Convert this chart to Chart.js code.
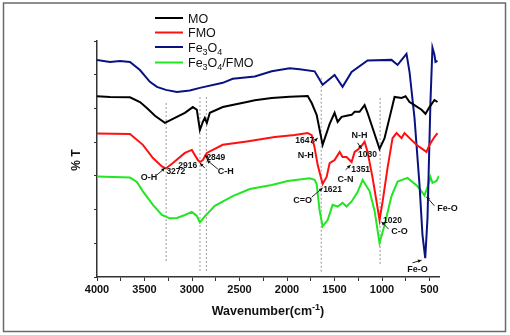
<!DOCTYPE html>
<html>
<head>
<meta charset="utf-8">
<script src="https://cdn.jsdelivr.net/npm/chart.js@4.4.1/dist/chart.umd.min.js"></script>
<style>
  html, body { margin: 0; padding: 0; background: #fff; }
  canvas { display: block; }
</style>
</head>
<body>
<canvas id="ftirChart" width="510" height="335"></canvas>
<script>
// FT-IR spectra: wavenumber (cm-1) vs %T (stacked, arbitrary offset units)
const seriesNames = ["MO", "FMO", "Fe_3O_4", "Fe_3O_4/FMO"];
const seriesColors = ["#000000", "#ff1010", "#0a1282", "#22e622"];
const xTicks = [4000, 3500, 3000, 2500, 2000, 1500, 1000, 500];
const xTickMarks = [4000, 3750, 3500, 3250, 3000, 2750, 2500, 2250, 2000, 1750, 1500, 1250, 1000, 750, 500];

const moWave = [4000, 3863, 3653, 3548, 3475, 3390, 3285, 3180, 3075, 2991, 2949, 2917, 2886, 2865, 2844, 2812, 2676, 2423, 2339, 2161, 1972, 1782, 1740, 1688, 1625, 1551, 1499, 1467, 1425, 1373, 1320, 1288, 1236, 1183, 1152, 1099, 1026, 973, 921, 868, 794, 752, 710, 658, 584, 542, 500, 448, 416];
const moT = [5.36, 5.34, 5.33, 5.19, 5.01, 4.78, 4.57, 4.72, 4.87, 5.04, 4.96, 4.36, 4.60, 4.72, 4.57, 4.87, 5.04, 5.19, 5.24, 5.31, 5.35, 5.37, 5.16, 4.81, 3.92, 4.54, 4.87, 4.60, 4.75, 4.78, 4.81, 4.90, 4.90, 5.10, 4.87, 4.42, 3.80, 4.12, 4.72, 5.34, 5.31, 5.36, 5.19, 5.10, 4.96, 4.84, 5.04, 5.25, 5.19];

const fmoWave = [4000, 3653, 3517, 3411, 3317, 3275, 3201, 3075, 3002, 2938, 2917, 2886, 2844, 2676, 2423, 2129, 1919, 1782, 1740, 1709, 1677, 1625, 1583, 1551, 1499, 1446, 1415, 1373, 1320, 1288, 1257, 1215, 1183, 1152, 1099, 1057, 1026, 994, 942, 889, 847, 794, 763, 710, 637, 532, 500, 448, 416];
const fmoT = [4.26, 4.24, 3.92, 3.53, 3.28, 3.22, 3.38, 3.68, 3.77, 3.47, 3.41, 3.47, 3.68, 3.92, 4.02, 4.15, 4.21, 4.27, 4.21, 3.83, 3.32, 2.76, 2.97, 3.38, 3.47, 3.71, 3.56, 3.56, 3.41, 3.71, 3.77, 3.89, 4.01, 3.71, 2.94, 2.23, 1.69, 2.23, 3.23, 4.12, 4.27, 4.12, 4.27, 4.12, 3.92, 3.71, 3.92, 4.15, 4.27];

const feWave = [4000, 3863, 3758, 3653, 3548, 3443, 3369, 3275, 3159, 3023, 2917, 2676, 2571, 2339, 2161, 1972, 1867, 1709, 1625, 1499, 1415, 1320, 1152, 900, 836, 742, 710, 658, 605, 574, 545, 521, 490, 469, 448, 437, 416];
const feT = [6.44, 6.38, 6.41, 6.38, 6.14, 5.79, 5.64, 5.55, 5.49, 5.53, 5.61, 5.76, 5.88, 5.95, 6.10, 6.19, 6.16, 6.10, 5.70, 5.99, 5.64, 6.08, 6.42, 6.44, 6.29, 6.62, 6.08, 4.72, 2.73, 1.25, 0.56, 1.75, 5.19, 6.80, 6.59, 6.38, 6.41];

const feFmoWave = [4000, 3653, 3580, 3517, 3411, 3317, 3233, 3159, 3075, 3002, 2949, 2917, 2865, 2760, 2571, 2392, 2161, 1993, 1761, 1709, 1688, 1656, 1625, 1572, 1520, 1467, 1415, 1373, 1320, 1257, 1204, 1131, 1078, 1026, 973, 900, 836, 731, 626, 553, 521, 490, 469, 427, 400];
const feFmoT = [2.98, 2.95, 2.82, 2.54, 2.14, 1.84, 1.74, 1.75, 1.84, 1.93, 1.81, 1.62, 1.80, 2.11, 2.40, 2.61, 2.73, 2.85, 2.93, 2.88, 2.76, 1.96, 1.50, 1.69, 2.14, 2.09, 2.20, 2.09, 2.24, 2.52, 2.88, 2.55, 1.96, 1.01, 1.54, 2.40, 2.83, 2.94, 2.69, 2.42, 2.67, 2.97, 2.79, 2.85, 3.00];

// dotted guide lines at the assigned bands
const peakWave = [3272, 2916, 2849, 1640, 1020];
const peakTop = [5.16, 5.34, 5.34, 5.91, 5.31];
const peakBottom = [0.45, 0.12, 0.12, 0.12, 0.36];

// band labels: text, wavenumber, %T
const noteText = ["O-H", "3272", "2916", "2849", "C-H", "1647", "N-H", "1621", "C=O", "N-H", "1030", "1351", "C-N", "1020", "C-O", "Fe-O", "Fe-O"];
const noteWave = [3453, 3170, 3044, 2749, 2644, 1814, 1803, 1520, 1835, 1236, 1152, 1225, 1383, 889, 815, 311, 626];
const noteT = [2.94, 3.12, 3.29, 3.53, 3.12, 4.04, 3.59, 2.58, 2.28, 4.21, 3.62, 3.18, 2.88, 1.66, 1.34, 2.02, 0.21];

// pointer arrows: from (wave, T) to (wave, T)
const arrowFrom = [[3369, 3.03], [2865, 3.23], [2823, 3.50], [2728, 3.20], [1740, 3.95], [1740, 2.37], [1257, 3.98], [1383, 3.18], [931, 1.42], [448, 2.11], [679, 0.42]];
const arrowTo = [[3285, 3.23], [2917, 3.38], [2865, 3.62], [2844, 3.47], [1677, 4.12], [1625, 2.64], [1215, 3.80], [1330, 3.32], [1005, 1.64], [532, 2.38], [584, 0.50]];

const FONT = "'Liberation Sans', Arial, sans-serif";

function pairUp(xs, ys) {
    return xs.map((x, i) => ({ x: x, y: ys[i] }));
}

// draws text with _x subscripts and ^{..} superscripts
function drawRich(ctx, text, x, y, size, weight, align) {
    const parts = [];
    const re = /([_^])(\{[^}]*\}|.)/g;
    let last = 0, m;
    while ((m = re.exec(text)) !== null) {
        if (m.index > last) parts.push([text.slice(last, m.index), 0]);
        parts.push([m[2].replace(/[{}]/g, ""), m[1] === "_" ? 1 : -1]);
        last = re.lastIndex;
    }
    if (last < text.length) parts.push([text.slice(last), 0]);
    const small = Math.round(size * 0.68);
    let total = 0;
    parts.forEach(p => {
        ctx.font = weight + " " + (p[1] ? small : size) + "px " + FONT;
        total += ctx.measureText(p[0]).width;
    });
    let cx = align === "center" ? x - total / 2 : x;
    ctx.textAlign = "left";
    ctx.textBaseline = "alphabetic";
    parts.forEach(p => {
        ctx.font = weight + " " + (p[1] ? small : size) + "px " + FONT;
        const dy = p[1] === 1 ? size * 0.25 : (p[1] === -1 ? -size * 0.4 : 0);
        ctx.fillText(p[0], cx, y + dy);
        cx += ctx.measureText(p[0]).width;
    });
}

const decorPlugin = {
    id: "decor",
    beforeDraw(chart) {
        const ctx = chart.ctx;
        ctx.save();
        ctx.fillStyle = "#fff";
        ctx.fillRect(0, 0, chart.width, chart.height);
        ctx.restore();
    },
    afterDraw(chart) {
        const ctx = chart.ctx;
        const xs = chart.scales.x, ys = chart.scales.y;
        ctx.save();

        // band labels
        ctx.fillStyle = "#111";
        noteText.forEach((t, i) => {
            const isNum = /^\d+$/.test(t);
            ctx.font = "bold " + (isNum ? 8.5 : 9) + "px " + FONT;
            ctx.textAlign = "center";
            ctx.textBaseline = "middle";
            ctx.fillText(t, xs.getPixelForValue(noteWave[i]), ys.getPixelForValue(noteT[i]));
        });

        // arrows
        ctx.strokeStyle = "#222";
        ctx.fillStyle = "#111";
        ctx.lineWidth = 1;
        arrowFrom.forEach((a, i) => {
            const x1 = xs.getPixelForValue(a[0]), y1 = ys.getPixelForValue(a[1]);
            const x2 = xs.getPixelForValue(arrowTo[i][0]), y2 = ys.getPixelForValue(arrowTo[i][1]);
            ctx.beginPath();
            ctx.moveTo(x1, y1);
            ctx.lineTo(x2, y2);
            ctx.stroke();
            const ang = Math.atan2(y2 - y1, x2 - x1);
            ctx.beginPath();
            ctx.moveTo(x2, y2);
            ctx.lineTo(x2 - 4 * Math.cos(ang - 0.45), y2 - 4 * Math.sin(ang - 0.45));
            ctx.lineTo(x2 - 4 * Math.cos(ang + 0.45), y2 - 4 * Math.sin(ang + 0.45));
            ctx.closePath();
            ctx.fill();
        });

        // legend
        const legendY = [18, 32.5, 47, 62.5];
        seriesNames.forEach((name, i) => {
            ctx.strokeStyle = seriesColors[i];
            ctx.lineWidth = 2;
            ctx.beginPath();
            ctx.moveTo(155, legendY[i]);
            ctx.lineTo(183, legendY[i]);
            ctx.stroke();
            ctx.fillStyle = "#111";
            drawRich(ctx, name, 188, legendY[i] + 4.5, 12.5, "normal", "left");
        });

        // axis titles
        ctx.fillStyle = "#111";
        drawRich(ctx, "Wavenumber(cm^{-1})", 268, 315, 12.5, "bold", "center");
        ctx.translate(76, 160);
        ctx.rotate(-Math.PI / 2);
        drawRich(ctx, "% T", 0, 4, 12, "bold", "center");
        ctx.restore();

        // outer frame
        ctx.save();
        ctx.strokeStyle = "#6a6a6a";
        ctx.lineWidth = 1.5;
        ctx.strokeRect(3.5, 3, 502, 328.5);
        ctx.restore();
    }
};

const spectra = [
    [moWave, moT], [fmoWave, fmoT], [feWave, feT], [feFmoWave, feFmoT]
];

const datasets = spectra.map((s, i) => ({
    label: seriesNames[i],
    data: pairUp(s[0], s[1]),
    borderColor: seriesColors[i],
    borderWidth: 2,
    pointRadius: 0,
    tension: 0,
    fill: false
}));

peakWave.forEach((w, i) => {
    datasets.push({
        label: "peak" + w,
        data: [{ x: w, y: peakTop[i] }, { x: w, y: peakBottom[i] }],
        borderColor: "#9a9a9a",
        borderWidth: 1,
        borderDash: [2, 2],
        pointRadius: 0,
        fill: false
    });
});

new Chart(document.getElementById("ftirChart"), {
    type: "line",
    data: { datasets: datasets },
    options: {
        responsive: false,
        animation: false,
        devicePixelRatio: 1,
        layout: { padding: { left: 87, right: 71, top: 41, bottom: 0 } },
        plugins: {
            legend: { display: false },
            tooltip: { enabled: false }
        },
        scales: {
            x: {
                type: "linear",
                reverse: true,
                min: 400,
                max: 4000,
                afterBuildTicks: scale => {
                    scale.ticks = xTickMarks.map(v => ({ value: v }));
                },
                afterFit: scale => { scale.height = 58; },
                ticks: {
                    autoSkip: false,
                    maxRotation: 0,
                    padding: 2,
                    color: "#111",
                    font: { family: FONT, size: 11, weight: "bold" },
                    callback: v => xTicks.includes(v) ? String(v) : ""
                },
                grid: { drawOnChartArea: false, drawTicks: true, tickLength: 4, color: "#333" },
                border: { display: true, color: "#333", width: 1.5 }
            },
            y: {
                min: 0,
                max: 7,
                afterFit: scale => { scale.width = 10; },
                ticks: { stepSize: 1, display: false },
                grid: { drawOnChartArea: false, drawTicks: true, tickLength: 3, color: "#333" },
                border: { display: true, color: "#333", width: 1.5 }
            }
        }
    },
    plugins: [decorPlugin]
});
</script>
</body>
</html>
